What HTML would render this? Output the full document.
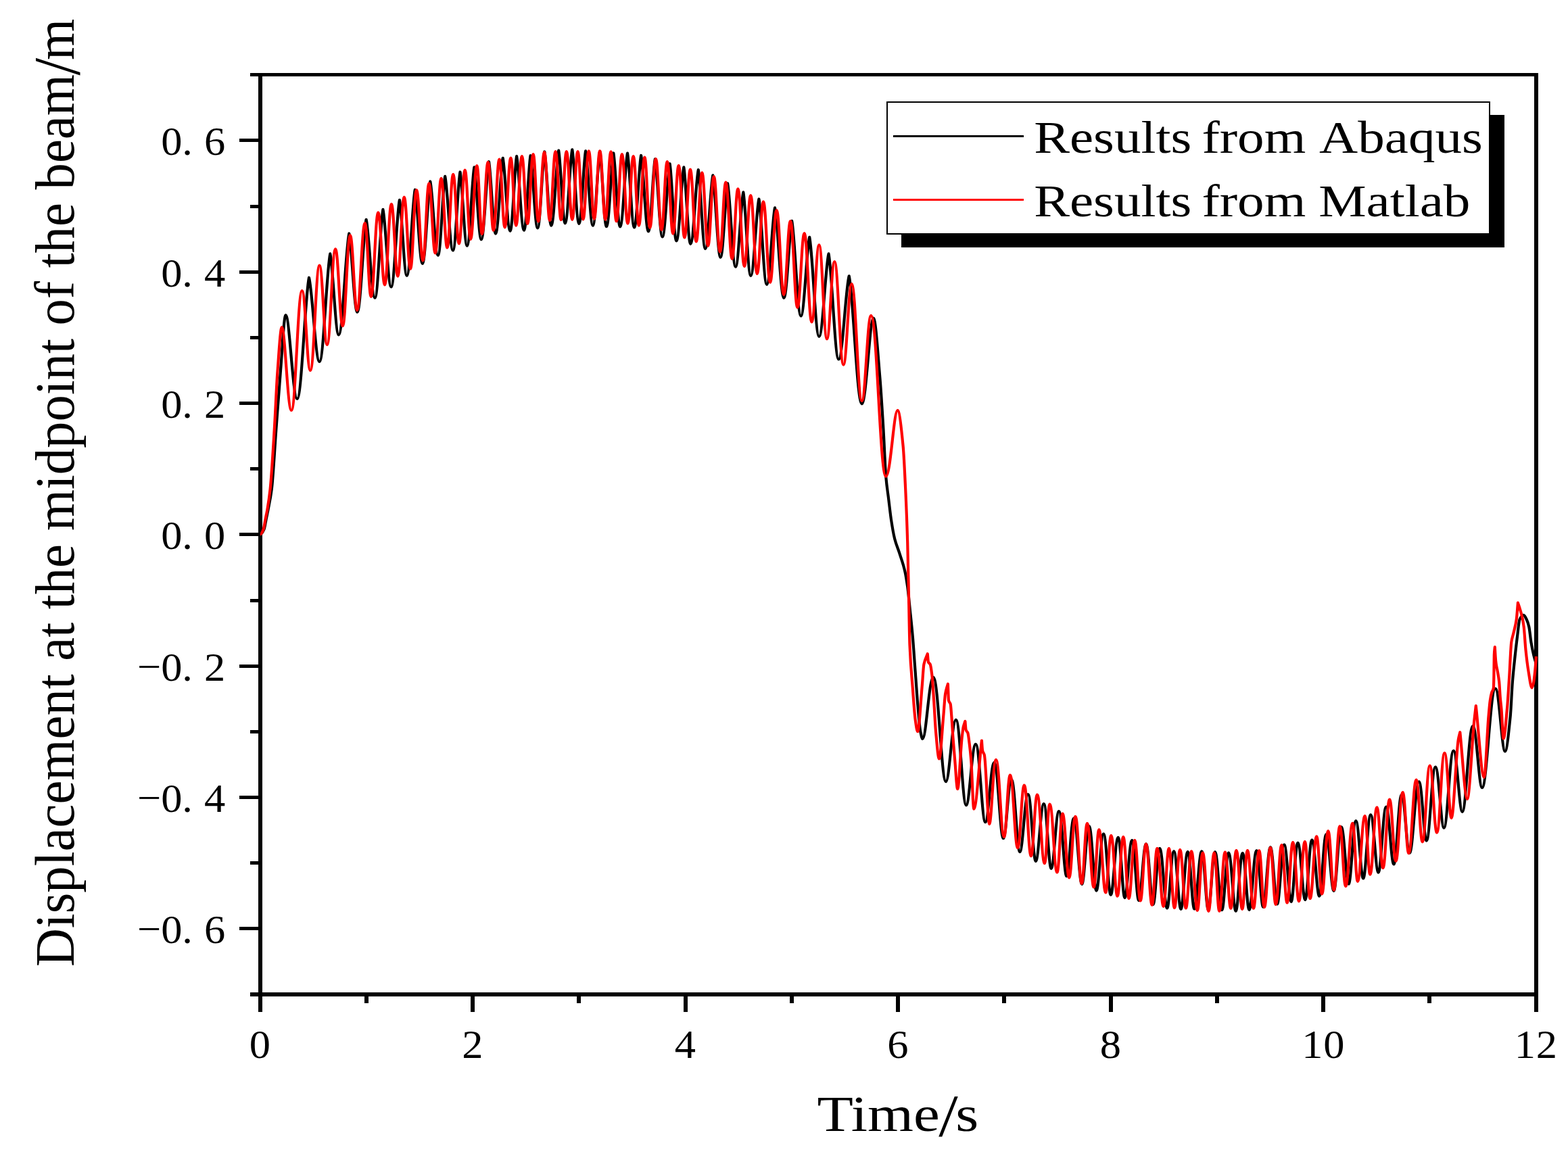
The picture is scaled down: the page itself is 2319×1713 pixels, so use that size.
<!DOCTYPE html>
<html lang="en">
<head>
<meta charset="utf-8">
<title>Displacement at the midpoint of the beam</title>
<style>
html,body{margin:0;padding:0;background:#fff;}
body{width:2319px;height:1713px;overflow:hidden;}
svg{display:block;}
text{white-space:pre;}
</style>
</head>
<body>
<svg width="2319" height="1713" viewBox="0 0 2319 1713" role="img" aria-label="Displacement at the midpoint of the beam versus time">
<g fill="#000">
<rect x="370" y="108" width="1905" height="5" fill="#000"/>
<rect x="370" y="1468" width="1905" height="6" fill="#000"/>
<rect x="382" y="108" width="6" height="1389" fill="#000"/>
<rect x="2269" y="108" width="6" height="1389" fill="#000"/>
<rect x="354" y="1371" width="30" height="5" fill="#000"/>
<rect x="370" y="1274" width="14" height="5" fill="#000"/>
<rect x="354" y="1177" width="30" height="5" fill="#000"/>
<rect x="370" y="1080" width="14" height="5" fill="#000"/>
<rect x="354" y="983" width="30" height="5" fill="#000"/>
<rect x="370" y="886" width="14" height="5" fill="#000"/>
<rect x="354" y="788" width="30" height="5" fill="#000"/>
<rect x="370" y="691" width="14" height="5" fill="#000"/>
<rect x="354" y="594" width="30" height="5" fill="#000"/>
<rect x="370" y="497" width="14" height="5" fill="#000"/>
<rect x="354" y="400" width="30" height="5" fill="#000"/>
<rect x="370" y="303" width="14" height="5" fill="#000"/>
<rect x="354" y="205" width="30" height="5" fill="#000"/>
<rect x="539" y="1470" width="6" height="14" fill="#000"/>
<rect x="696" y="1470" width="6" height="27" fill="#000"/>
<rect x="853" y="1470" width="6" height="14" fill="#000"/>
<rect x="1011" y="1470" width="6" height="27" fill="#000"/>
<rect x="1168" y="1470" width="6" height="14" fill="#000"/>
<rect x="1325" y="1470" width="6" height="27" fill="#000"/>
<rect x="1482" y="1470" width="6" height="14" fill="#000"/>
<rect x="1640" y="1470" width="6" height="27" fill="#000"/>
<rect x="1797" y="1470" width="6" height="14" fill="#000"/>
<rect x="1954" y="1470" width="6" height="27" fill="#000"/>
<rect x="2111" y="1470" width="6" height="14" fill="#000"/>
</g>
<g transform="scale(1,1)" fill="none" stroke-width="4.2" stroke-linejoin="round" stroke-linecap="butt">
<path stroke="#000" d="M385.00,790.50C386.83,790.50 388.67,787.10 390.50,783.00C391.53,780.69 392.57,773.18 393.60,768.20C394.60,763.38 395.60,758.85 396.60,753.60C398.33,744.49 400.07,737.25 401.80,723.40C403.97,706.09 406.13,665.05 408.30,636.20C410.50,606.91 412.70,575.37 414.90,549.00C417.43,518.64 419.97,466.00 422.50,466.00C428.17,466.00 433.04,590.00 439.50,590.00C446.15,590.00 451.17,437.59 457.00,410.70C462.17,429.34 466.61,535.00 472.50,535.00C478.50,535.00 483.03,399.34 488.30,375.40C492.50,393.38 496.11,495.30 500.90,495.30C506.75,495.30 511.17,367.97 516.30,345.50C520.33,362.93 523.80,461.70 528.40,461.70C533.42,461.70 537.20,345.34 541.60,324.80C545.90,342.19 549.60,440.70 554.50,440.70C559.02,440.70 562.43,329.52 566.40,309.90C570.43,327.09 573.90,424.50 578.50,424.50C583.21,424.50 586.77,315.19 590.90,295.90C594.50,312.67 597.60,407.70 601.70,407.70C606.30,407.70 609.77,299.75 613.80,280.70C617.47,297.09 620.62,390.00 624.80,390.00C629.17,390.00 632.47,286.73 636.30,268.50C640.13,284.88 643.43,377.70 647.80,377.70C651.75,377.70 654.73,278.42 658.20,260.90C662.10,277.32 665.45,370.40 669.90,370.40C673.93,370.40 676.97,271.88 680.50,254.50C683.93,270.87 686.89,363.60 690.80,363.60C694.83,363.60 697.87,264.83 701.40,247.40C704.87,263.44 707.85,354.30 711.80,354.30C716.06,354.30 719.27,256.46 723.00,239.20C726.33,255.16 729.20,345.60 733.00,345.60C737.07,345.60 740.13,250.57 743.70,233.80C747.30,249.99 750.40,341.70 754.50,341.70C758.15,341.70 760.90,247.69 764.10,231.10C767.73,247.54 770.86,340.70 775.00,340.70C778.65,340.70 781.40,246.77 784.60,230.20C788.10,246.28 791.11,337.40 795.10,337.40C798.98,337.40 801.90,241.44 805.30,224.50C808.63,240.87 811.50,333.60 815.30,333.60C819.44,333.60 822.57,239.25 826.20,222.60C829.40,238.75 832.15,330.30 835.80,330.30C839.79,330.30 842.80,237.65 846.30,221.30C849.67,237.74 852.56,330.90 856.40,330.90C860.09,330.90 862.87,239.53 866.10,223.40C869.67,239.93 872.73,333.60 876.80,333.60C880.75,333.60 883.73,240.44 887.20,224.00C890.47,240.68 893.28,335.20 897.00,335.20C900.91,335.20 903.87,242.81 907.30,226.50C910.57,242.85 913.38,335.50 917.10,335.50C921.24,335.50 924.37,242.94 928.00,226.60C931.37,243.08 934.26,336.50 938.10,336.50C941.90,336.50 944.77,245.97 948.10,230.00C951.73,246.84 954.86,342.30 959.00,342.30C962.72,342.30 965.53,251.44 968.80,235.40C972.43,252.67 975.56,350.50 979.70,350.50C983.84,350.50 986.97,258.44 990.60,242.20C993.87,259.33 996.68,356.40 1000.40,356.40C1004.54,356.40 1007.67,263.75 1011.30,247.40C1014.63,264.41 1017.50,360.80 1021.30,360.80C1025.67,360.80 1028.97,267.64 1032.80,251.20C1036.23,268.72 1039.19,368.00 1043.10,368.00C1047.36,368.00 1050.57,275.69 1054.30,259.40C1058.07,277.59 1061.31,380.70 1065.60,380.70C1069.59,380.70 1072.60,287.79 1076.10,271.40C1080.03,289.89 1083.42,394.70 1087.90,394.70C1092.23,394.70 1095.50,300.94 1099.30,284.40C1102.97,302.92 1106.12,407.90 1110.30,407.90C1114.90,407.90 1118.37,311.51 1122.40,294.50C1126.27,313.44 1129.59,420.80 1134.00,420.80C1138.56,420.80 1142.00,324.41 1146.00,307.40C1150.47,327.39 1154.31,440.70 1159.40,440.70C1163.85,440.70 1167.20,343.88 1171.10,326.80C1175.57,347.91 1179.41,467.50 1184.50,467.50C1189.33,467.50 1192.97,368.31 1197.20,350.80C1201.93,372.85 1206.00,497.80 1211.40,497.80C1216.76,497.80 1220.80,393.76 1225.50,375.40C1230.43,398.81 1234.68,531.50 1240.30,531.50C1246.15,531.50 1250.57,426.78 1255.70,408.30C1262.00,436.65 1267.42,597.30 1274.60,597.30C1281.17,597.30 1286.13,470.70 1291.90,470.70C1295.03,470.70 1298.17,521.21 1301.30,557.90C1303.00,577.81 1304.70,605.81 1306.40,634.00C1307.70,655.56 1309.00,691.17 1310.30,706.00C1311.60,720.83 1312.90,727.62 1314.20,738.20C1315.47,748.51 1316.73,760.36 1318.00,768.70C1319.70,779.89 1321.40,789.96 1323.10,796.70C1325.63,806.75 1328.17,811.57 1330.70,819.60C1333.23,827.63 1335.77,833.86 1338.30,845.00C1339.60,850.72 1340.90,858.58 1342.20,868.00C1343.47,877.18 1344.73,891.33 1346.00,903.60C1347.27,915.87 1348.53,927.17 1349.80,941.70C1351.07,956.23 1352.33,975.63 1353.60,992.60C1354.87,1009.57 1356.13,1028.95 1357.40,1043.50C1358.67,1058.05 1359.93,1075.30 1361.20,1081.70C1362.30,1087.26 1363.40,1093.00 1364.50,1093.00C1369.77,1093.00 1373.98,1001.80 1380.30,1001.80C1387.74,1001.80 1392.20,1156.20 1398.90,1156.20C1404.26,1156.20 1407.84,1064.90 1413.80,1064.90C1419.84,1064.90 1423.46,1191.10 1428.90,1191.10C1433.98,1191.10 1437.36,1100.80 1443.00,1100.80C1448.72,1100.80 1452.15,1216.20 1457.30,1216.20C1462.02,1216.20 1465.16,1128.10 1470.40,1128.10C1475.80,1128.10 1479.04,1240.20 1483.90,1240.20C1488.22,1240.20 1491.10,1153.00 1495.90,1153.00C1500.86,1153.00 1503.84,1260.20 1508.30,1260.20C1512.69,1260.20 1515.62,1175.00 1520.50,1175.00C1525.02,1175.00 1527.73,1274.00 1531.80,1274.00C1536.12,1274.00 1539.00,1189.20 1543.80,1189.20C1548.16,1189.20 1550.78,1284.80 1554.70,1284.80C1558.80,1284.80 1561.54,1200.00 1566.10,1200.00C1570.66,1200.00 1573.40,1296.20 1577.50,1296.20C1581.32,1296.20 1583.86,1210.50 1588.10,1210.50C1592.90,1210.50 1595.78,1307.80 1600.10,1307.80C1603.92,1307.80 1606.46,1222.00 1610.70,1222.00C1615.02,1222.00 1617.61,1317.60 1621.50,1317.60C1625.32,1317.60 1627.86,1233.70 1632.10,1233.70C1636.38,1233.70 1638.95,1323.70 1642.80,1323.70C1646.72,1323.70 1649.34,1238.80 1653.70,1238.80C1657.62,1238.80 1659.97,1328.10 1663.50,1328.10C1667.35,1328.10 1669.92,1243.20 1674.20,1243.20C1678.20,1243.20 1680.60,1332.10 1684.20,1332.10C1688.09,1332.10 1690.68,1248.60 1695.00,1248.60C1699.16,1248.60 1701.66,1338.10 1705.40,1338.10C1708.93,1338.10 1711.28,1255.20 1715.20,1255.20C1719.56,1255.20 1722.18,1343.50 1726.10,1343.50C1729.70,1343.50 1732.10,1259.30 1736.10,1259.30C1740.26,1259.30 1742.76,1344.80 1746.50,1344.80C1750.14,1344.80 1752.56,1260.10 1756.60,1260.10C1760.52,1260.10 1762.87,1344.60 1766.40,1344.60C1770.32,1344.60 1772.94,1259.30 1777.30,1259.30C1781.18,1259.30 1783.51,1345.50 1787.00,1345.50C1790.60,1345.50 1793.00,1260.40 1797.00,1260.40C1801.08,1260.40 1803.53,1346.10 1807.20,1346.10C1810.73,1346.10 1813.08,1261.60 1817.00,1261.60C1821.28,1261.60 1823.85,1347.70 1827.70,1347.70C1831.30,1347.70 1833.70,1262.10 1837.70,1262.10C1841.62,1262.10 1843.97,1345.90 1847.50,1345.90C1851.42,1345.90 1854.04,1258.30 1858.40,1258.30C1862.32,1258.30 1864.67,1341.70 1868.20,1341.70C1872.05,1341.70 1874.62,1253.40 1878.90,1253.40C1882.90,1253.40 1885.30,1337.40 1888.90,1337.40C1892.64,1337.40 1895.14,1249.60 1899.30,1249.60C1903.42,1249.60 1905.89,1333.90 1909.60,1333.90C1913.13,1333.90 1915.48,1246.90 1919.40,1246.90C1923.76,1246.90 1926.38,1331.10 1930.30,1331.10C1933.90,1331.10 1936.30,1242.50 1940.30,1242.50C1944.66,1242.50 1947.28,1325.60 1951.20,1325.60C1954.87,1325.60 1957.32,1234.30 1961.40,1234.30C1965.88,1234.30 1968.57,1317.80 1972.60,1317.80C1976.60,1317.80 1979.26,1223.40 1983.70,1223.40C1988.06,1223.40 1990.68,1307.60 1994.60,1307.60C1998.45,1307.60 2001.02,1214.30 2005.30,1214.30C2009.66,1214.30 2012.28,1299.50 2016.20,1299.50C2020.12,1299.50 2022.74,1205.40 2027.10,1205.40C2031.70,1205.40 2034.46,1290.70 2038.60,1290.70C2042.70,1290.70 2045.44,1193.60 2050.00,1193.60C2054.56,1193.60 2057.30,1278.50 2061.40,1278.50C2065.54,1278.50 2068.30,1175.80 2072.90,1175.80C2077.62,1175.80 2080.45,1261.90 2084.70,1261.90C2089.70,1261.90 2093.04,1156.30 2098.60,1156.30C2103.08,1156.30 2105.77,1243.60 2109.80,1243.60C2114.52,1243.60 2117.66,1134.70 2122.90,1134.70C2127.98,1134.70 2131.03,1224.60 2135.60,1224.60C2140.68,1224.60 2144.06,1110.50 2149.70,1110.50C2154.90,1110.50 2158.02,1200.80 2162.70,1200.80C2168.32,1200.80 2172.06,1074.00 2178.30,1074.00C2183.78,1074.00 2187.07,1165.20 2192.00,1165.20C2199.06,1165.20 2203.76,1018.60 2211.60,1018.60C2217.32,1018.60 2221.13,1111.50 2225.90,1111.50C2228.50,1111.50 2231.10,1085.65 2233.70,1059.80C2234.77,1049.20 2235.83,1022.00 2236.90,1008.70C2238.20,992.49 2239.50,981.34 2240.80,969.30C2241.87,959.42 2242.93,950.22 2244.00,941.80C2245.17,932.59 2246.33,918.71 2247.50,916.30C2249.43,912.30 2251.37,909.80 2253.30,909.80C2254.77,909.80 2256.23,913.35 2257.70,916.30C2258.90,918.71 2260.10,922.00 2261.30,927.20C2262.33,931.68 2263.37,943.84 2264.40,950.00C2265.70,957.75 2267.00,964.04 2268.30,969.30C2269.53,974.29 2270.77,978.68 2272.00,982.00"/>
<path stroke="#f00" d="M385.00,790.50C386.53,790.50 388.07,786.94 389.60,783.00C390.57,780.51 391.53,773.10 392.50,768.20C393.47,763.30 394.43,759.26 395.40,753.60C396.80,745.40 398.20,736.53 399.60,723.40C401.63,704.33 403.67,668.89 405.70,636.20C407.30,610.48 408.90,570.32 410.50,549.00C412.60,521.02 414.70,484.00 416.80,484.00C421.53,484.00 425.32,607.00 431.00,607.00C437.28,607.00 440.42,430.00 446.70,430.00C451.62,430.00 454.08,548.00 459.00,548.00C464.40,548.00 467.10,392.70 472.50,392.70C477.02,392.70 479.28,509.90 483.80,509.90C488.72,509.90 491.18,368.40 496.10,368.40C500.38,368.40 502.52,482.20 506.80,482.20C511.24,482.20 513.46,348.20 517.90,348.20C521.98,348.20 524.02,459.00 528.10,459.00C532.74,459.00 535.06,330.20 539.70,330.20C543.34,330.20 545.16,438.80 548.80,438.80C553.00,438.80 555.10,314.40 559.30,314.40C563.18,314.40 565.12,421.30 569.00,421.30C572.96,421.30 574.94,301.90 578.90,301.90C582.66,301.90 584.54,408.60 588.30,408.60C592.06,408.60 593.94,291.60 597.70,291.60C601.42,291.60 603.28,397.70 607.00,397.70C610.60,397.70 612.40,281.20 616.00,281.20C619.80,281.20 621.70,385.40 625.50,385.40C629.10,385.40 630.90,271.40 634.50,271.40C638.18,271.40 640.02,374.50 643.70,374.50C647.22,374.50 648.98,263.80 652.50,263.80C656.06,263.80 657.84,366.50 661.40,366.50C664.92,366.50 666.68,257.80 670.20,257.80C673.68,257.80 675.42,360.30 678.90,360.30C682.38,360.30 684.12,251.50 687.60,251.50C690.96,251.50 692.64,353.80 696.00,353.80C699.72,353.80 701.58,245.20 705.30,245.20C708.34,245.20 709.86,346.10 712.90,346.10C716.46,346.10 718.24,239.80 721.80,239.80C725.00,239.80 726.60,340.70 729.80,340.70C733.28,340.70 735.02,235.60 738.50,235.60C741.74,235.60 743.36,336.30 746.60,336.30C750.12,336.30 751.88,233.50 755.40,233.50C758.52,233.50 760.08,333.60 763.20,333.60C766.68,333.60 768.42,231.10 771.90,231.10C775.22,231.10 776.88,330.90 780.20,330.90C783.56,330.90 785.24,228.00 788.60,228.00C791.64,228.00 793.16,327.60 796.20,327.60C799.76,327.60 801.54,225.10 805.10,225.10C808.30,225.10 809.90,326.00 813.10,326.00C816.50,326.00 818.20,224.00 821.60,224.00C824.88,224.00 826.52,325.20 829.80,325.20C833.00,325.20 834.60,224.00 837.80,224.00C841.20,224.00 842.90,324.90 846.30,324.90C849.58,324.90 851.22,224.00 854.50,224.00C857.66,224.00 859.24,324.50 862.40,324.50C865.76,324.50 867.44,223.40 870.80,223.40C874.00,223.40 875.60,323.80 878.80,323.80C882.16,323.80 883.84,223.40 887.20,223.40C890.44,223.40 892.06,324.90 895.30,324.90C898.58,324.90 900.22,224.30 903.50,224.30C906.78,224.30 908.42,327.30 911.70,327.30C914.98,327.30 916.62,228.10 919.90,228.10C923.30,228.10 925.00,330.60 928.40,330.60C931.72,330.60 933.38,231.10 936.70,231.10C939.98,231.10 941.62,333.60 944.90,333.60C948.30,333.60 950.00,232.70 953.40,232.70C956.52,232.70 958.08,336.80 961.20,336.80C964.68,336.80 966.42,235.10 969.90,235.10C973.30,235.10 975.00,340.10 978.40,340.10C981.76,340.10 983.44,239.20 986.80,239.20C990.20,239.20 991.90,345.60 995.30,345.60C998.66,345.60 1000.34,244.90 1003.70,244.90C1007.18,244.90 1008.92,351.50 1012.40,351.50C1015.80,351.50 1017.50,250.70 1020.90,250.70C1024.42,250.70 1026.18,357.40 1029.70,357.40C1033.14,357.40 1034.86,255.30 1038.30,255.30C1041.82,255.30 1043.58,363.60 1047.10,363.60C1050.58,363.60 1052.32,261.20 1055.80,261.20C1059.44,261.20 1061.26,372.50 1064.90,372.50C1068.30,372.50 1070.00,269.70 1073.40,269.70C1077.12,269.70 1078.98,382.80 1082.70,382.80C1086.18,382.80 1087.92,279.30 1091.40,279.30C1095.20,279.30 1097.10,394.00 1100.90,394.00C1104.62,394.00 1106.48,289.00 1110.20,289.00C1114.04,289.00 1115.96,404.90 1119.80,404.90C1123.48,404.90 1125.32,298.30 1129.00,298.30C1133.00,298.30 1135.00,417.70 1139.00,417.70C1142.84,417.70 1144.76,311.20 1148.60,311.20C1152.84,311.20 1154.96,435.80 1159.20,435.80C1163.12,435.80 1165.08,327.10 1169.00,327.10C1173.16,327.10 1175.24,454.90 1179.40,454.90C1183.48,454.90 1185.52,345.00 1189.60,345.00C1193.96,345.00 1196.14,476.30 1200.50,476.30C1204.86,476.30 1207.04,362.30 1211.40,362.30C1216.04,362.30 1218.36,501.40 1223.00,501.40C1227.48,501.40 1229.72,387.00 1234.20,387.00C1239.48,387.00 1242.12,539.60 1247.40,539.60C1252.28,539.60 1254.72,420.00 1259.60,420.00C1265.60,420.00 1268.60,593.00 1274.60,593.00C1280.04,593.00 1282.76,466.80 1288.20,466.80C1297.00,466.80 1301.40,704.80 1310.20,704.80C1317.12,704.80 1321.73,607.20 1327.50,607.20C1330.20,607.20 1332.90,632.31 1335.60,659.50C1336.90,672.59 1338.20,701.69 1339.50,730.00C1340.40,749.60 1341.30,771.16 1342.20,801.80C1342.77,821.09 1343.33,851.77 1343.90,878.00C1344.43,902.69 1344.97,941.41 1345.50,954.50C1346.93,989.68 1348.37,998.99 1349.80,1018.00C1351.07,1034.80 1352.33,1054.87 1353.60,1063.90C1354.80,1072.46 1356.00,1082.20 1357.20,1082.20C1359.37,1082.20 1361.53,1039.77 1363.70,1015.40C1364.60,1005.28 1365.50,987.18 1366.40,982.70C1368.20,973.73 1370.00,972.37 1371.80,967.20C1372.20,971.27 1372.60,978.43 1373.00,979.40C1373.90,981.58 1374.80,980.87 1375.70,982.70C1376.60,984.53 1377.50,991.48 1378.40,999.00C1379.33,1006.79 1380.27,1023.39 1381.20,1037.20C1382.10,1050.52 1383.00,1070.69 1383.90,1080.80C1385.60,1099.90 1387.30,1122.50 1389.00,1122.50C1391.10,1122.50 1393.20,1081.94 1395.30,1059.00C1396.23,1048.81 1397.17,1031.84 1398.10,1026.30C1399.37,1018.78 1400.63,1016.57 1401.90,1011.70C1402.27,1019.83 1402.63,1034.55 1403.00,1036.10C1403.90,1039.90 1404.80,1038.32 1405.70,1041.60C1406.23,1043.54 1406.77,1052.36 1407.30,1059.00C1408.03,1068.14 1408.77,1081.88 1409.50,1091.70C1410.40,1103.75 1411.30,1114.15 1412.20,1124.40C1413.53,1139.59 1414.87,1167.10 1416.20,1167.10C1418.33,1167.10 1420.47,1110.49 1422.60,1091.70C1423.33,1085.24 1424.07,1078.64 1424.80,1075.30C1425.67,1071.35 1426.53,1069.70 1427.40,1066.90C1427.80,1071.17 1428.20,1078.45 1428.60,1079.70C1429.50,1082.51 1430.40,1081.73 1431.30,1084.10C1432.20,1086.47 1433.10,1095.26 1434.00,1102.60C1434.73,1108.58 1435.47,1115.35 1436.20,1124.40C1437.57,1141.26 1438.93,1196.60 1440.30,1196.60C1444.17,1196.60 1448.03,1129.20 1451.90,1095.50C1452.30,1100.40 1452.70,1108.42 1453.10,1110.20C1454.00,1114.21 1454.90,1113.43 1455.80,1116.80C1458.27,1126.04 1460.73,1219.00 1463.20,1219.00C1466.47,1219.00 1468.88,1123.80 1473.00,1123.80C1478.04,1123.80 1480.20,1238.00 1485.00,1238.00C1488.56,1238.00 1490.16,1146.70 1493.90,1146.70C1498.65,1146.70 1500.68,1254.30 1505.20,1254.30C1509.04,1254.30 1510.77,1161.50 1514.80,1161.50C1519.04,1161.50 1520.86,1266.30 1524.90,1266.30C1528.54,1266.30 1530.18,1175.60 1534.00,1175.60C1538.58,1175.60 1540.54,1277.20 1544.90,1277.20C1547.94,1277.20 1549.31,1189.60 1552.50,1189.60C1557.08,1189.60 1559.04,1290.50 1563.40,1290.50C1566.64,1290.50 1568.10,1203.70 1571.50,1203.70C1575.57,1203.70 1577.32,1298.30 1581.20,1298.30C1584.92,1298.30 1586.59,1207.80 1590.50,1207.80C1594.41,1207.80 1596.08,1307.00 1599.80,1307.00C1603.04,1307.00 1604.50,1218.10 1607.90,1218.10C1612.02,1218.10 1613.78,1312.50 1617.70,1312.50C1620.78,1312.50 1622.17,1227.40 1625.40,1227.40C1629.52,1227.40 1631.28,1320.40 1635.20,1320.40C1638.44,1320.40 1639.90,1236.10 1643.30,1236.10C1647.21,1236.10 1648.88,1325.60 1652.60,1325.60C1656.08,1325.60 1657.65,1238.10 1661.30,1238.10C1664.74,1238.10 1666.22,1329.10 1669.50,1329.10C1672.98,1329.10 1674.55,1243.20 1678.20,1243.20C1681.73,1243.20 1683.24,1332.40 1686.60,1332.40C1689.92,1332.40 1691.41,1248.60 1694.90,1248.60C1698.64,1248.60 1700.24,1338.60 1703.80,1338.60C1706.84,1338.60 1708.21,1255.20 1711.40,1255.20C1715.31,1255.20 1716.98,1340.80 1720.70,1340.80C1723.94,1340.80 1725.40,1255.20 1728.80,1255.20C1732.24,1255.20 1733.72,1343.00 1737.00,1343.00C1740.28,1343.00 1741.76,1257.00 1745.20,1257.00C1748.85,1257.00 1750.42,1343.50 1753.90,1343.50C1757.18,1343.50 1758.66,1259.30 1762.10,1259.30C1765.75,1259.30 1767.32,1346.80 1770.80,1346.80C1774.00,1346.80 1775.44,1261.50 1778.80,1261.50C1782.41,1261.50 1783.96,1347.80 1787.40,1347.80C1790.76,1347.80 1792.27,1261.50 1795.80,1261.50C1798.99,1261.50 1800.36,1347.70 1803.40,1347.70C1806.76,1347.70 1808.27,1260.70 1811.80,1260.70C1815.37,1260.70 1816.90,1343.70 1820.30,1343.70C1823.58,1343.70 1825.06,1258.10 1828.50,1258.10C1832.15,1258.10 1833.72,1344.80 1837.20,1344.80C1840.32,1344.80 1841.72,1258.10 1845.00,1258.10C1848.74,1258.10 1850.34,1343.70 1853.90,1343.70C1857.22,1343.70 1858.71,1258.30 1862.20,1258.30C1865.43,1258.30 1866.82,1342.00 1869.90,1342.00C1873.50,1342.00 1875.12,1253.90 1878.90,1253.90C1882.22,1253.90 1883.64,1337.90 1886.80,1337.90C1890.28,1337.90 1891.85,1250.10 1895.50,1250.10C1898.90,1250.10 1900.36,1335.40 1903.60,1335.40C1907.00,1335.40 1908.53,1246.00 1912.10,1246.00C1915.88,1246.00 1917.50,1333.20 1921.10,1333.20C1924.58,1333.20 1926.15,1245.20 1929.80,1245.20C1933.08,1245.20 1934.48,1329.20 1937.60,1329.20C1941.44,1329.20 1943.17,1237.40 1947.20,1237.40C1950.52,1237.40 1951.94,1322.40 1955.10,1322.40C1958.78,1322.40 1960.44,1229.40 1964.30,1229.40C1967.87,1229.40 1969.40,1316.70 1972.80,1316.70C1976.28,1316.70 1977.85,1222.40 1981.50,1222.40C1985.15,1222.40 1986.72,1311.00 1990.20,1311.00C1994.28,1311.00 1996.12,1217.80 2000.40,1217.80C2003.55,1217.80 2004.90,1303.80 2007.90,1303.80C2012.18,1303.80 2014.11,1207.10 2018.60,1207.10C2021.83,1207.10 2023.22,1293.70 2026.30,1293.70C2030.34,1293.70 2032.16,1194.40 2036.40,1194.40C2040.18,1194.40 2041.80,1283.90 2045.40,1283.90C2049.28,1283.90 2051.03,1182.50 2055.10,1182.50C2059.01,1182.50 2060.68,1273.70 2064.40,1273.70C2068.48,1273.70 2070.32,1172.00 2074.60,1172.00C2078.30,1172.00 2079.88,1262.20 2083.40,1262.20C2087.88,1262.20 2089.90,1153.70 2094.60,1153.70C2098.42,1153.70 2100.06,1245.30 2103.70,1245.30C2108.10,1245.30 2110.08,1132.50 2114.70,1132.50C2119.07,1132.50 2120.94,1231.70 2125.10,1231.70C2129.62,1231.70 2131.65,1113.90 2136.40,1113.90C2140.68,1113.90 2143.20,1210.20 2146.60,1210.20C2150.00,1210.20 2153.40,1113.52 2156.80,1094.00C2157.63,1089.21 2158.47,1086.80 2159.30,1083.20C2162.87,1116.13 2166.43,1182.00 2170.00,1182.00C2173.43,1182.00 2176.87,1099.10 2180.30,1066.00C2181.13,1057.97 2181.97,1051.33 2182.80,1044.00C2186.83,1079.27 2190.87,1149.80 2194.90,1149.80C2197.10,1149.80 2199.30,1084.99 2201.50,1059.80C2202.27,1051.02 2203.03,1041.31 2203.80,1036.20C2204.60,1030.87 2205.40,1027.16 2206.20,1024.40C2207.10,1021.30 2208.00,1022.78 2208.90,1017.30C2209.07,1016.29 2209.23,1008.06 2209.40,1000.00C2209.53,993.55 2209.67,972.43 2209.80,969.30C2210.13,961.47 2210.47,961.17 2210.80,957.10C2211.23,963.80 2211.67,972.79 2212.10,977.20C2212.37,979.91 2212.63,981.82 2212.90,983.50C2213.53,987.49 2214.17,989.43 2214.80,993.00C2215.60,997.51 2216.40,1001.26 2217.20,1008.70C2217.73,1013.66 2218.27,1026.01 2218.80,1032.30C2219.33,1038.59 2219.87,1041.97 2220.40,1048.00C2221.47,1060.05 2222.53,1092.60 2223.60,1092.60C2225.40,1092.60 2227.20,1067.53 2229.00,1048.00C2230.07,1036.43 2231.13,1017.41 2232.20,1000.80C2233.23,984.71 2234.27,956.64 2235.30,949.70C2236.30,942.99 2237.30,941.43 2238.30,937.00C2239.80,930.36 2241.30,926.52 2242.80,916.00C2243.50,911.09 2244.20,899.80 2244.90,891.70C2246.00,895.07 2247.10,898.14 2248.20,901.80C2249.20,905.13 2250.20,908.20 2251.20,912.70C2252.03,916.45 2252.87,920.68 2253.70,927.20C2254.63,934.50 2255.57,952.44 2256.50,961.50C2257.83,974.45 2259.17,985.00 2260.50,993.00C2262.20,1003.19 2263.90,1017.30 2265.60,1017.30C2267.73,1017.30 2269.87,1000.68 2272.00,971.00"/>
</g>
<g transform="scale(1.05,1)" font-family="'Liberation Serif', serif" font-size="59.5" fill="#000">
<text x="193.22 226.89 256.47 287.60" y="1394.50 1395.50 1395.50 1395.50">−0.6</text>
<text x="193.22 226.89 256.47 287.60" y="1200.17 1201.17 1201.17 1201.17">−0.4</text>
<text x="193.22 226.89 256.47 287.60" y="1005.83 1006.83 1006.83 1006.83">−0.2</text>
<text x="226.89 256.47 287.60" y="812.50 812.50 812.50">0.0</text>
<text x="226.89 256.47 287.60" y="618.17 618.17 618.17">0.2</text>
<text x="226.89 256.47 287.60" y="423.83 423.83 423.83">0.4</text>
<text x="226.89 256.47 287.60" y="229.50 229.50 229.50">0.6</text>
<text x="351.22" y="1564.60">0</text>
<text x="650.74" y="1564.60">2</text>
<text x="950.27" y="1564.60">4</text>
<text x="1249.79" y="1564.60">6</text>
<text x="1549.32" y="1564.60">8</text>
<text x="1833.60 1864.08" y="1564.60 1564.60">10</text>
<text x="2133.12 2163.60" y="1564.60 1564.60">12</text>
</g>
<g font-family="'Liberation Serif', serif" fill="#000">
<text id="xt" transform="translate(1208.5,1672.8) scale(1.1655,1)" font-size="75">Time<tspan font-size="88" dy="6.8" dx="-1.5">/</tspan><tspan dy="-6.8" dx="-3">s</tspan></text>
<text id="yt" transform="translate(109,1430) rotate(-90) scale(1.0495,1.104)" font-size="75">Displacement at the midpoint of the beam<tspan font-size="88" dy="6.8" dx="-1.5">/</tspan><tspan dy="-6.8" dx="-3">m</tspan></text>
</g>
<rect x="1333" y="170" width="892" height="196" fill="#000"/>
<rect x="1312" y="151" width="891" height="195" fill="#fff" stroke="#000" stroke-width="2"/>
<rect x="1321" y="200" width="193" height="3" fill="#000"/>
<rect x="1321" y="294" width="193" height="3" fill="#f00"/>
<g font-family="'Liberation Serif', serif" fill="#000" font-size="66.8">
<text transform="translate(0,225.9) scale(1.185,1)"><tspan x="1290.46">Results </tspan><tspan x="1499.92">from </tspan><tspan x="1646.50">Abaqus</tspan></text>
<text transform="translate(0,319.9) scale(1.185,1)"><tspan x="1290.46">Results </tspan><tspan x="1499.92">from </tspan><tspan x="1645.74">Matlab</tspan></text>
</g>
</svg>
</body>
</html>
